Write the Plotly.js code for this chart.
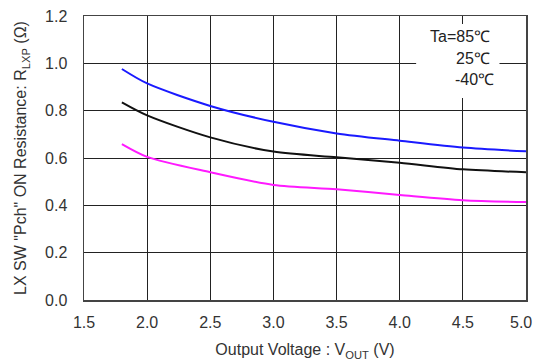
<!DOCTYPE html>
<html>
<head>
<meta charset="utf-8">
<script src="https://cdn.plot.ly/plotly-3.0.1.min.js"></script>
<style>html,body{margin:0;padding:0;background:#fff}#chart{width:534px;height:364px}</style>
</head>
<body>
<div id="chart"></div>
<script>
const vout = [1.8, 2.0, 2.5, 3.0, 3.5, 4.0, 4.5, 5.0];
const r85 = [0.976, 0.915, 0.82, 0.753, 0.704, 0.673, 0.644, 0.628];
const r25 = [0.835, 0.78, 0.687, 0.627, 0.603, 0.58, 0.552, 0.54];
const rm40 = [0.659, 0.605, 0.54, 0.486, 0.468, 0.444, 0.422, 0.414];
const legendLabels = ["Ta=85℃", "25℃", "-40℃"];
const xTicks = [1.5, 2.0, 2.5, 3.0, 3.5, 4.0, 4.5, 5.0];
const yTicks = [0.0, 0.2, 0.4, 0.6, 0.8, 1.0, 1.2];

const font = {family: 'Liberation Sans, Arial, sans-serif', size: 16, color: '#333'};
const mk = (y, c) => ({x: vout, y: y, mode: 'lines', line: {color: c, width: 2, shape: 'spline', smoothing: 0.8}, showlegend: false, hoverinfo: 'skip'});
const lastX = xTicks[xTicks.length - 1];

Plotly.newPlot('chart', [mk(r85, '#1a1aff'), mk(r25, '#111111'), mk(rm40, '#ff1aff')], {
  width: 534, height: 364,
  margin: {l: 84, r: 8, t: 16, b: 64},
  paper_bgcolor: '#fff', plot_bgcolor: '#fff',
  font: font,
  xaxis: {range: [1.5, 5.0], tickvals: xTicks,
    ticktext: xTicks.map((v, i) => i === xTicks.length - 1 ? '' : v.toFixed(1)),
    showgrid: true, gridcolor: '#222', gridwidth: 1, zeroline: false, automargin: false,
    showline: true, linecolor: '#444', linewidth: 1.5, mirror: true,
    ticks: 'outside', ticklen: 7, tickcolor: 'rgba(0,0,0,0)',
    title: {text: 'Output Voltage : V<sub>OUT</sub> (V)', font: font, standoff: 14}},
  yaxis: {range: [0, 1.2], tickvals: yTicks, ticktext: yTicks.map(v => v.toFixed(1)),
    showgrid: true, gridcolor: '#222', gridwidth: 1, zeroline: false, automargin: false,
    showline: true, linecolor: '#444', linewidth: 1.5, mirror: true,
    ticks: 'outside', ticklen: 12, tickcolor: 'rgba(0,0,0,0)',
    title: {text: 'LX SW "Pch" ON Resistance: R<sub>LXP</sub> (Ω)', font: font, standoff: 14}},
  shapes: [{type: 'rect', xref: 'x', yref: 'y', x0: 4.13, x1: 4.79, y0: 0.853, y1: 1.166,
    fillcolor: '#fff', line: {width: 0}, layer: 'above'}],
  annotations: [
    {x: 4.48, y: 1.115, text: legendLabels[0]},
    {x: 4.58, y: 1.02, text: legendLabels[1]},
    {x: 4.59, y: 0.93, text: legendLabels[2]}
  ].map(a => Object.assign({xref: 'x', yref: 'y', showarrow: false, font: {family: font.family, size: 16, color: '#222'}}, a)).concat([
    {x: lastX, xref: 'x', y: 0, yref: 'paper', xanchor: 'right', yanchor: 'top', xshift: 8, yshift: -12,
     text: lastX.toFixed(1), showarrow: false, font: font}
  ])
}, {staticPlot: true});
</script>
</body>
</html>
